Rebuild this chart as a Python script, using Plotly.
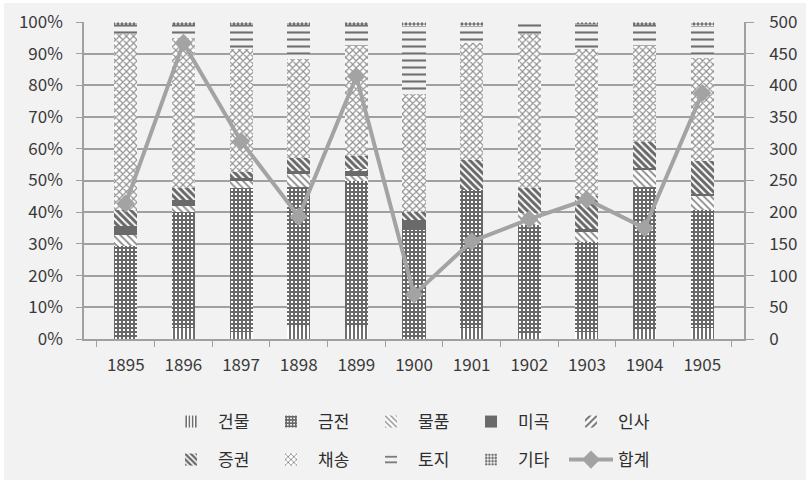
import plotly.graph_objects as go

years = ["1895", "1896", "1897", "1898", "1899", "1900", "1901", "1902", "1903", "1904", "1905"]

geonmul = [0, 3.5, 2.3, 3.9, 3.9, 0, 3.5, 2.0, 2.3, 2.8, 3.5]
geumjeon = [29.2, 36.7, 45.3, 44.2, 45.8, 34.4, 43.6, 34.0, 28.4, 45.3, 37.3]
mulpum = [3.7, 1.6, 2.1, 4.2, 1.6, 0, 0, 3.7, 3.2, 5.5, 4.2]
migok = [2.8, 2.1, 1.0, 0.6, 1.7, 3.2, 0, 0, 0.8, 0.5, 0.8]
insa = [0, 0, 0, 0, 0.5, 0, 0, 0, 0, 0, 0]
jeunggwon = [5.1, 3.8, 2.1, 4.3, 4.2, 2.6, 9.5, 7.8, 10.3, 8.2, 10.2]
chaesong = [55.4, 47.3, 38.6, 31.2, 34.7, 37.2, 36.8, 48.8, 46.5, 30.1, 32.7]
toji = [2.7, 4.0, 7.5, 10.6, 6.6, 21.3, 5.3, 3.7, 8.0, 6.6, 10.0]
gita = [1.1, 1.0, 1.1, 1.0, 1.0, 1.3, 1.3, 0, 0.5, 1.0, 1.3]
total = [214, 467, 312, 193, 414, 70, 154, 189, 220, 175, 388]

BG = "#f2f2f2"
series = [
    ("건물", geonmul, dict(shape="|", fgcolor="#707070", bgcolor="white", size=4, solidity=0.5)),
    ("금전", geumjeon, dict(shape="+", fgcolor="#686868", bgcolor="white", size=4, solidity=0.75)),
    ("물품", mulpum, dict(shape="\\", fgcolor="#8c8c8c", bgcolor="white", size=5, solidity=0.35)),
    ("미곡", migok, dict(shape="", fgcolor="#6a6a6a", bgcolor="#6a6a6a")),
    ("인사", insa, dict(shape="/", fgcolor="#707070", bgcolor="white", size=6, solidity=0.4)),
    ("증권", jeunggwon, dict(shape="\\", fgcolor="#686868", bgcolor="white", size=5, solidity=0.6)),
    ("채송", chaesong, dict(shape="x", fgcolor="#8c8c8c", bgcolor="white", size=5, solidity=0.4)),
    ("토지", toji, dict(shape="-", fgcolor="#707070", bgcolor=BG, size=7, solidity=0.3)),
    ("기타", gita, dict(shape=".", fgcolor="#707070", bgcolor="white", size=4, solidity=0.55)),
]

fig = go.Figure()
for i, (name, vals, pat) in enumerate(series):
    if pat["shape"] == "":
        marker = dict(color=pat["fgcolor"], line=dict(width=0))
    else:
        marker = dict(color=pat["bgcolor"], line=dict(width=0),
                      pattern=dict(shape=pat["shape"], fgcolor=pat["fgcolor"], bgcolor=pat["bgcolor"],
                                   size=pat["size"], solidity=pat["solidity"], fillmode="replace"))
    fig.add_trace(go.Bar(x=years, y=vals, name=name, marker=marker,
                         legend="legend" if i < 5 else "legend2"))

fig.add_trace(go.Scatter(x=years, y=total, name="합계", yaxis="y2", mode="lines+markers",
                         line=dict(color="#a3a3a3", width=4),
                         marker=dict(symbol="diamond", size=14, color="#a3a3a3"),
                         legend="legend2"))

FAM = "Noto Sans CJK KR, Malgun Gothic, sans-serif"
font = dict(family=FAM, size=17, color="#3a3a3a")
legfont = dict(family=FAM, size=17, color="#2e2e2e")

W, H = 810, 483
ML, MR, MT, MB = 84, 66, 22, 144
PW, PH = W - ML - MR, H - MT - MB

def px_x(x):
    return (x - ML) / PW

def px_y(y):
    return (H - MB - y) / PH

fig.add_shape(type="rect", xref="paper", yref="paper", layer="below",
              x0=px_x(4), x1=px_x(806), y0=px_y(480), y1=px_y(3),
              fillcolor=BG, line=dict(width=0))

fig.update_layout(
    width=W, height=H,
    margin=dict(l=ML, r=MR, t=MT, b=MB, autoexpand=False),
    paper_bgcolor="white", plot_bgcolor="rgba(0,0,0,0)",
    barmode="stack", bargap=0.6,
    font=font,
    xaxis=dict(type="category", showline=True, linecolor="#a0a0a0", linewidth=1.5,
               ticks="outside", tickson="boundaries", ticklen=6, tickcolor="#a0a0a0",
               showgrid=False, tickfont=font, ticklabelstandoff=10, automargin=False),
    yaxis=dict(range=[0, 100], dtick=10, ticksuffix="%", showgrid=True, gridcolor="#a0a0a0",
               gridwidth=1.5, showline=True, linecolor="#a0a0a0", linewidth=1.5,
               ticks="outside", ticklen=6, tickcolor="#a0a0a0", zeroline=False, tickfont=font,
               ticklabelstandoff=10, automargin=False),
    yaxis2=dict(range=[0, 500], dtick=50, overlaying="y", side="right", showgrid=False,
                showline=True, linecolor="#a0a0a0", linewidth=1.5, ticks="outside", ticklen=8,
                tickcolor="#a0a0a0", zeroline=False, tickfont=font, ticklabelstandoff=12,
                automargin=False),
    legend=dict(orientation="h", x=0.5, xanchor="center", y=px_y(422), yanchor="middle",
                font=legfont, bgcolor="rgba(0,0,0,0)", traceorder="normal",
                itemwidth=44, entrywidth=41, entrywidthmode="pixels"),
    legend2=dict(orientation="h", x=0.5, xanchor="center", y=px_y(460), yanchor="middle",
                 font=legfont, bgcolor="rgba(0,0,0,0)", traceorder="normal",
                 itemwidth=44, entrywidth=41, entrywidthmode="pixels"),
)

fig.write_html("out.html", config={"displayModeBar": False},
               post_script="document.body.style.margin='0';")
